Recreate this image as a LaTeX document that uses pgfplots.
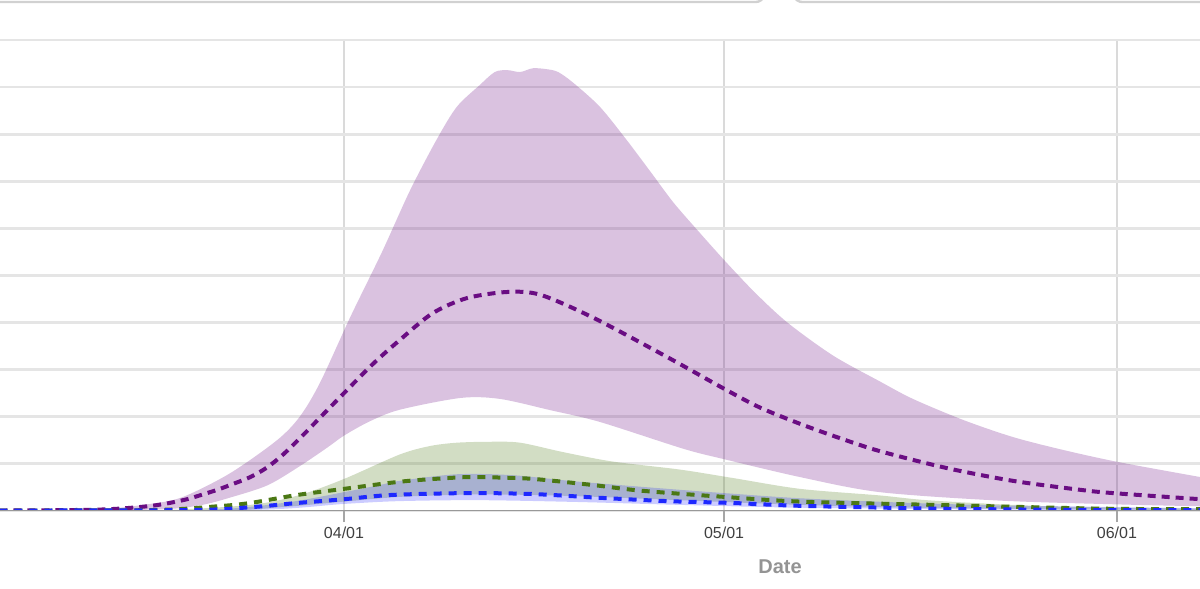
\documentclass[border=0pt]{standalone}
\usepackage{pgfplots}
\pgfplotsset{compat=1.18}
\usepgfplotslibrary{fillbetween}
\usepackage{fontspec}
\setmainfont{Liberation Sans}
\definecolor{purpL}{RGB}{106,13,131}
\definecolor{grnL}{RGB}{75,120,20}
\definecolor{bluL}{RGB}{30,40,255}
\definecolor{gridc}{RGB}{229,229,229}
\definecolor{vgridc}{RGB}{218,218,218}
\begin{document}
\begin{tikzpicture}
\begin{axis}[
  scale only axis, width=600pt, height=235.5pt,
  xmin=-27.15, xmax=67.56, ymin=0, ymax=10,
  axis line style={draw=none},
  xtick={0,30,61}, xticklabels={04/01,05/01,06/01},
  xtick pos=bottom, tick align=outside, major tick length=5.5pt,
  xtick style={color=black!35, line width=0.8pt},
  ytick={0,1,...,10}, yticklabels={}, ytick style={draw=none},
  grid=major,
  y grid style={color=gridc, line width=1.4pt},
  x grid style={color=vgridc, line width=1pt},
  xticklabel style={font=\fontsize{8}{9.6}\selectfont, text=black!75, yshift=1pt},
  xlabel={\textbf{Date}},
  xlabel style={font=\fontsize{10}{12}\selectfont, text=black!42, at={(axis description cs:0.65,0)}, anchor=center, yshift=-28pt},
  clip=true,
]
% purple band
\addplot[name path=pu, draw=none, smooth] coordinates {(-27.2,0) (-20,0.02) (-15.3,0.15) (-12.7,0.3) (-9,0.8) (-5.3,1.5) (-3.5,2.0) (-1.9,2.72) (0.5,4.12) (3,5.5) (5.2,6.8) (7.3,7.88) (8.9,8.58) (10.7,9.04) (11.9,9.32) (12.9,9.36) (13.9,9.32) (14.9,9.4) (16.0,9.38) (16.9,9.32) (18.1,9.09) (20.2,8.58) (22.3,7.88) (24.2,7.2) (26,6.55) (28.1,5.9) (30.2,5.27) (32.5,4.62) (35,4.0) (38.6,3.3) (42.3,2.75) (44.9,2.38) (48.9,1.93) (52.8,1.57) (56.7,1.3) (61.1,1.04) (67.6,0.72)};
\addplot[name path=pl, draw=none, smooth] coordinates {(-27.2,0) (-15,0.03) (-11.4,0.12) (-8.8,0.3) (-6,0.55) (-3.5,0.95) (-1.3,1.35) (0,1.6) (2,1.9) (4.4,2.15) (9.2,2.4) (12.3,2.38) (16.3,2.14) (20.2,1.89) (26.8,1.32) (30,1.1) (36,0.72) (42.3,0.4) (51.8,0.22) (61.1,0.14) (67.6,0.1)};
\addplot[purpL, fill opacity=0.25] fill between[of=pu and pl];
% green band
\addplot[name path=gu, draw=none, smooth] coordinates {(-27.2,0) (-15.3,0.01) (-7.4,0.13) (-3.5,0.34) (0,0.68) (4.4,1.2) (6.8,1.38) (8.9,1.45) (11.5,1.47) (13.9,1.45) (17.3,1.25) (21.2,1.05) (26.5,0.88) (30.7,0.7) (36,0.47) (42.3,0.33) (46.5,0.22) (55.7,0.1) (67.6,0.05)};
\addplot[name path=gl, draw=none, smooth] coordinates {(-27.2,0) (-10,0.01) (-5,0.08) (0,0.2) (4.4,0.3) (10,0.35) (15,0.34) (20,0.3) (26.5,0.23) (36,0.13) (45,0.07) (55,0.04) (67.6,0.02)};
\addplot[grnL, fill opacity=0.25] fill between[of=gu and gl];
% blue band
\addplot[name path=bu, draw=none, smooth] coordinates {(-27.2,0) (-11.4,0.02) (-4.8,0.17) (0,0.4) (2.8,0.55) (4.4,0.64) (8.9,0.78) (13.3,0.76) (18.6,0.62) (26.5,0.45) (30,0.38) (36,0.27) (43.9,0.18) (51.8,0.12) (67.6,0.06)};
\addplot[name path=bl, draw=none, smooth] coordinates {(-27.2,0) (-7.4,0.02) (0,0.15) (4.4,0.21) (10.7,0.23) (18.6,0.19) (26.5,0.13) (36,0.07) (51.8,0.03) (67.6,0.01)};
\addplot[blue, fill opacity=0.2] fill between[of=bu and bl];
% lines
\addplot[purpL, line width=2pt, dash pattern=on 4pt off 3pt, smooth] coordinates {(-27.2,0.01) (-19.3,0.03) (-15.2,0.11) (-12.7,0.23) (-11.4,0.33) (-10,0.45) (-9,0.55) (-7.4,0.72) (-6.1,0.92) (-4.8,1.2) (-3.2,1.62) (-1.9,1.98) (-0.3,2.42) (2.2,3.1) (4.4,3.63) (7,4.2) (9.7,4.52) (12.9,4.65) (15.5,4.59) (19.7,4.1) (25.5,3.27) (29.9,2.61) (32.8,2.2) (36,1.85) (39.1,1.55) (42.3,1.27) (47.6,0.91) (52.8,0.64) (58.1,0.45) (60.7,0.38) (67.6,0.25)};
\addplot[grnL, line width=2pt, dash pattern=on 4pt off 3.5pt, smooth] coordinates {(-27.2,0.01) (-15,0.02) (-10,0.1) (-7.4,0.17) (-3.7,0.34) (0,0.47) (3.7,0.6) (6,0.66) (9.7,0.72) (12.3,0.71) (15,0.68) (19.7,0.55) (23.5,0.43) (30,0.3) (36,0.2) (46.5,0.13) (59.7,0.05) (67.6,0.04)};
\addplot[bluL, line width=2pt, dash pattern=on 4pt off 3.5pt, smooth] coordinates {(-27.2,0.01) (-12,0.02) (-7.4,0.08) (-3.7,0.17) (0,0.25) (3.7,0.34) (9.7,0.38) (14.9,0.36) (20.2,0.28) (25.5,0.21) (30.7,0.17) (36,0.11) (47,0.05) (59.7,0.02) (67.6,0.02)};
\draw[color=black!40, line width=1pt] (rel axis cs:0,0) -- (rel axis cs:1,0);
\coordinate (SW) at (rel axis cs:0,0);
\coordinate (NE) at (rel axis cs:1,1);
\coordinate (NW) at (rel axis cs:0,1);
\end{axis}
\draw[color=black!18, line width=1.2pt, rounded corners=3pt] ([yshift=19pt]NW) -- ++(381pt,0) -- ++(2pt,6pt);
\draw[color=black!18, line width=1.2pt, rounded corners=3pt] ([xshift=396pt,yshift=25pt]NW) -- ++(2pt,-6pt) -- ++(210pt,0);
\pgfresetboundingbox
\path[use as bounding box] ([yshift=-39pt]SW) rectangle ([yshift=20pt]NE);
\end{tikzpicture}
\end{document}
